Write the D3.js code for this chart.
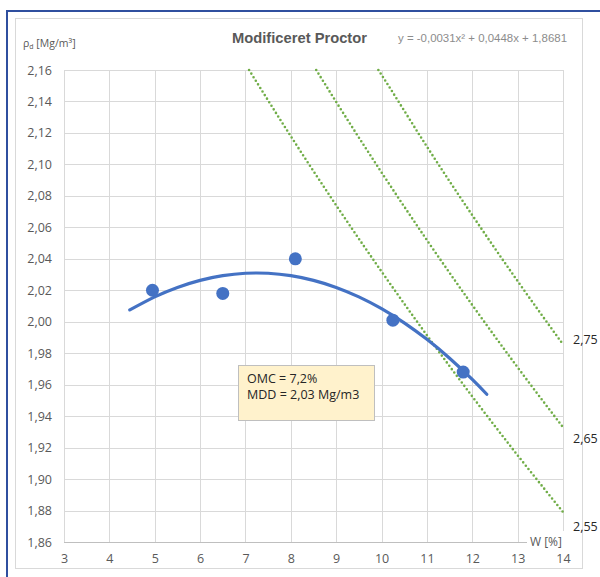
<!DOCTYPE html>
<html>
<head>
<meta charset="utf-8">
<script src="https://cdn.jsdelivr.net/npm/d3@7"></script>
<style>
html,body{margin:0;padding:0;background:#fff;}
svg{display:block;}
text{font-family:"Liberation Sans", Arial, sans-serif;}
</style>
</head>
<body>
<svg id="chart" width="600" height="577"></svg>
<script>
// ---- Data ----
const xTicks = [3,4,5,6,7,8,9,10,11,12,13,14];
const yTicks = [1.86,1.88,1.90,1.92,1.94,1.96,1.98,2.00,2.02,2.04,2.06,2.08,2.10,2.12,2.14,2.16];

// measured points (water content %, dry density)
const pointW   = [4.95, 6.5, 8.1, 10.25, 11.8];
const pointRho = [2.020, 2.018, 2.040, 2.001, 1.968];

// polynomial trend line
const trendW   = [4.45, 5, 5.5, 6, 6.5, 7, 7.5, 8, 8.5, 9, 9.5, 10, 10.5, 11, 11.5, 12, 12.32];
const trendRho = [2.0075, 2.0158, 2.0218, 2.0263, 2.0293, 2.0308, 2.0308, 2.0293, 2.0263, 2.0218, 2.0158, 2.0083, 1.9993, 1.9888, 1.9768, 1.9633, 1.9539];

// zero air voids lines (grain density 2,55 / 2,65 / 2,75)
const zavLabels = ["2,55", "2,65", "2,75"];
const zav255W   = [7.08, 8, 9, 10, 11, 12, 13, 14];
const zav255Rho = [2.160, 2.1179, 2.0740, 2.0319, 1.9914, 1.9525, 1.9151, 1.8791];
const zav265W   = [8.56, 9, 10, 11, 12, 13, 14];
const zav265Rho = [2.160, 2.1397, 2.0949, 2.0519, 2.0106, 1.9710, 1.9329];
const zav275W   = [9.93, 10, 11, 12, 13, 14];
const zav275Rho = [2.160, 2.1569, 2.1113, 2.0677, 2.0258, 1.9856];
const zavLabelRho = [1.8698, 1.9257, 1.9886];

const titleText = "Modificeret Proctor";
const equationText = "y = -0,0031x² + 0,0448x + 1,8681";
const noteLines = ["OMC = 7,2%", "MDD = 2,03 Mg/m3"];

// ---- Drawing ----
const svg = d3.select("#chart");
const x = d3.scaleLinear().domain([3,14]).range([64,563]);
const y = d3.scaleLinear().domain([1.86,2.16]).range([542,70]);
const loc = d3.formatLocale({decimal:",", thousands:".", grouping:[3], currency:["","€"]});
const f2 = loc.format(".2f");

// frames
svg.append("rect").attr("x",7).attr("y",11).attr("width",600).attr("height",570)
  .attr("fill","#fff").attr("stroke","#2f4f9f").attr("stroke-width",2);
svg.append("rect").attr("x",15.5).attr("y",18.5).attr("width",567).attr("height",550)
  .attr("fill","#fff").attr("stroke","#d9d9d9").attr("stroke-width",1);

// gridlines
const grid = svg.append("g");
grid.selectAll("line.v").data(xTicks).join("line")
  .attr("x1",d=>Math.round(x(d))+0.5).attr("x2",d=>Math.round(x(d))+0.5)
  .attr("y1",y(2.16)).attr("y2",y(1.86))
  .attr("stroke","#d9d9d9").attr("stroke-width",1);
grid.selectAll("line.h").data(yTicks).join("line")
  .attr("x1",x(3)).attr("x2",x(14))
  .attr("y1",d=>Math.round(y(d))+0.5).attr("y2",d=>Math.round(y(d))+0.5)
  .attr("stroke","#d9d9d9").attr("stroke-width",1);
// bottom axis line
svg.append("line").attr("x1",x(3)).attr("x2",x(14))
  .attr("y1",Math.round(y(1.86))+0.5).attr("y2",Math.round(y(1.86))+0.5)
  .attr("stroke","#bfbfbf").attr("stroke-width",1);

// axes labels
const yAxis = d3.axisLeft(y).tickValues(yTicks).tickFormat(f2).tickSize(0).tickPadding(12);
const gy = svg.append("g").attr("transform",`translate(${x(3)},0)`).call(yAxis);
gy.select(".domain").remove();
gy.selectAll("text").attr("fill","#595959").style("font-size","12.5px").style("font-family","'Open Sans', sans-serif");

const xAxis = d3.axisBottom(x).tickValues(xTicks).tickFormat(d3.format("d")).tickSize(0).tickPadding(12);
const gx = svg.append("g").attr("transform",`translate(0,${y(1.86)})`).call(xAxis);
gx.select(".domain").remove();
gx.selectAll("text").attr("fill","#595959").style("font-size","12.5px").style("font-family","'Open Sans', sans-serif");

// zero air void lines
const line = d3.line().x(d=>x(d[0])).y(d=>y(d[1])).curve(d3.curveMonotoneX);
const zavSets = [d3.zip(zav255W, zav255Rho), d3.zip(zav265W, zav265Rho), d3.zip(zav275W, zav275Rho)];
svg.append("g").selectAll("path").data(zavSets).join("path")
  .attr("d", line).attr("fill","none").attr("stroke","#70ad47")
  .attr("stroke-width",2.6).attr("stroke-linecap","round").attr("stroke-dasharray","0 4.2");

// zav labels
svg.append("g").selectAll("text").data(zavLabels).join("text")
  .attr("x", x(14)+10).attr("y",(d,i)=>y(zavLabelRho[i])).attr("dy","0.35em")
  .attr("fill","#262626").style("font-size","12.5px").style("font-family","'Open Sans', sans-serif")
  .text(d=>d);

// trend line
const trendLine = d3.line().x(d=>x(d[0])).y(d=>y(d[1])).curve(d3.curveNatural);
svg.append("path").datum(d3.zip(trendW, trendRho))
  .attr("d", trendLine).attr("fill","none").attr("stroke","#4472c4")
  .attr("stroke-width",3.2).attr("stroke-linecap","round");

// points
svg.append("g").selectAll("circle").data(d3.zip(pointW, pointRho)).join("circle")
  .attr("cx",d=>x(d[0])).attr("cy",d=>y(d[1])).attr("r",6.5).attr("fill","#4472c4");

// note box
const note = svg.append("g");
note.append("rect").attr("x",238.5).attr("y",365.5).attr("width",136).attr("height",55)
  .attr("fill","#fff2cc").attr("stroke","#bfbfbf").attr("stroke-width",1);
note.selectAll("text").data(noteLines).join("text")
  .attr("x",247).attr("y",(d,i)=>379+i*16).attr("dy","0.35em")
  .attr("fill","#262626").style("font-size","12.5px").style("font-family","'Open Sans', sans-serif")
  .text(d=>d);

// x axis title with white background
svg.append("rect").attr("x",527).attr("y",531).attr("width",38).attr("height",22).attr("fill","#fff");
svg.append("text").attr("x",530).attr("y",542).attr("dy","0.35em")
  .attr("fill","#595959").style("font-size","12px").style("font-family","'Open Sans', sans-serif")
  .text("W [%]");

// y axis title
const yt = svg.append("text").attr("x",23).attr("y",43).attr("dy","0.35em")
  .attr("fill","#595959").style("font-size","10.5px").style("font-family","'Open Sans', sans-serif");
yt.append("tspan").text("ρ");
yt.append("tspan").attr("font-size","7px").attr("dy","2").text("d");
yt.append("tspan").attr("dy","-2").text(" [Mg/m³]");

// title
svg.append("text").attr("x",299.5).attr("y",38).attr("dy","0.35em").attr("text-anchor","middle")
  .attr("fill","#595959").style("font-size","15px").style("font-weight","bold")
  .attr("textLength",135).attr("lengthAdjust","spacingAndGlyphs")
  .text(titleText);

// equation
svg.append("text").attr("x",398).attr("y",38).attr("dy","0.35em")
  .attr("fill","#8c8c8c").style("font-size","11.5px")
  .attr("textLength",169).attr("lengthAdjust","spacingAndGlyphs")
  .text(equationText);
</script>
</body>
</html>
